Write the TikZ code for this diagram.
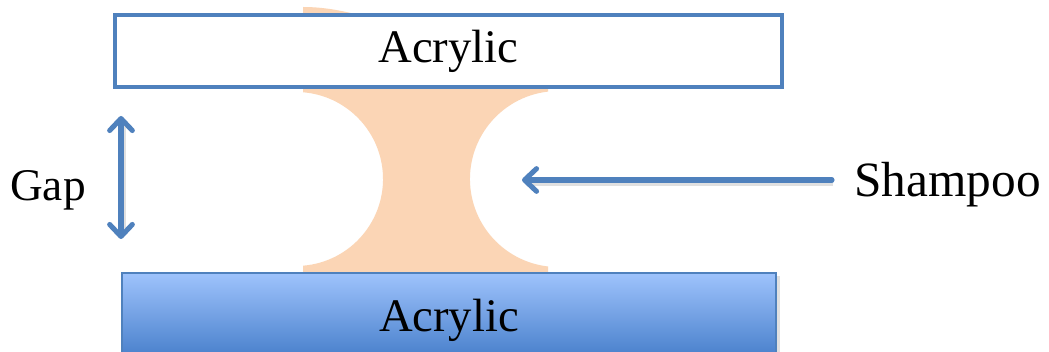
\documentclass[tikz,border=0pt]{standalone}
\usepackage{fontspec}
\setmainfont{Liberation Serif}
\usetikzlibrary{arrows.meta}
\definecolor{edgeblue}{HTML}{4F81BD}
\definecolor{shampoo}{HTML}{FBD5B5}
\definecolor{lightblue}{HTML}{9EC3FC}
\definecolor{darkblue}{HTML}{3F78C6}
\def\px{0.75pt}
\tikzset{
  lbl/.style={font=\fontsize{37}{42}\selectfont, inner sep=0pt},
  plate/.style={rectangle, inner sep=0pt, font=\fontsize{35}{40}\selectfont},
  barb/.tip={Straight Barb[length=9pt, width=17pt, line width=3.8pt, line cap=round, line join=round]},
  bluearrow/.style={draw=edgeblue, line width=3.8pt, line cap=round, arrows={-barb}},
  dblarrow/.style={draw=edgeblue, line width=3.8pt, line cap=round, arrows={barb-barb}},
  shade/.style={draw=black, opacity=0.12, line width=4pt, line cap=butt}
}
\begin{document}
\begin{tikzpicture}[x=0.75pt, y=-0.75pt]
\clip (0,0) rectangle (1049,352);
\fill[white] (0,0) rectangle (1049,352);
% shampoo bridge (pixel coords, y downward: arc angles measured clockwise)
\fill[shampoo] (303,274) -- (303,265.7)
   arc[start angle=85.4, end angle=-85.4, radius=87]
   -- (303,7) .. controls (325,7) and (345,11) .. (370,18) -- (548,18) -- (548,91.6)
   arc[start angle=263.5, end angle=96.5, radius=88]
   -- (548,274) -- cycle;
% plates
\node[plate, draw=edgeblue, line width=3.2pt, fill=white, minimum width=667*\px, minimum height=72*\px] (top) at (448.5,51) {Acrylic};
\fill[black, opacity=0.12] (125,276) rectangle (780,370);
\node[plate, draw=edgeblue, line width=0.8pt, top color=lightblue, bottom color=darkblue, minimum width=654*\px, minimum height=94*\px] (bot) at (449,320) {Acrylic};
% labels
\node[lbl, font=\fontsize{34}{40}\selectfont, anchor=base west] (gap) at (10,201) {Gap};
\node[lbl, anchor=base east] (sh) at (1041,197) {Shampoo};
% arrow ends
\coordinate (gtop) at (121,116);
\coordinate (gbot) at (121,239);
\coordinate (sstart) at (832,180);
\coordinate (send) at (522,180);
% soft shadows
\coordinate (gs1) at (123,125);
\coordinate (gs2) at (123,232);
\draw[shade] (gs1) -- (gs2);
\draw[shade] ([shift={(1,3)}]sstart) -- ([shift={(8,3)}]send);
% arrows
\draw[dblarrow] (gtop) -- (gbot);
\draw[bluearrow] (sstart) -- (send);
\end{tikzpicture}
\end{document}
